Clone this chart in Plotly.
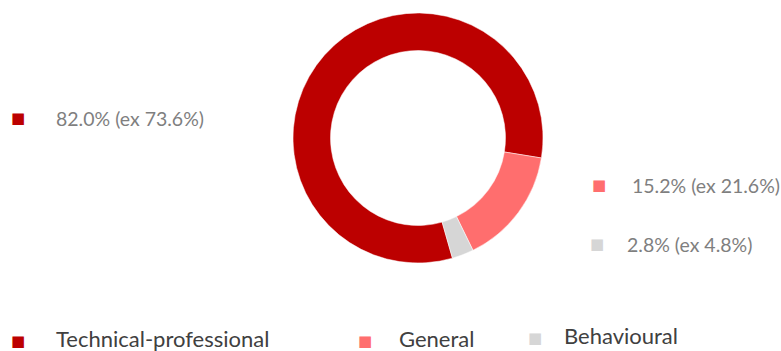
import plotly.graph_objects as go

categories = ["Technical-professional", "General", "Behavioural"]
values = [82.0, 15.2, 2.8]
previous = [73.6, 21.6, 4.8]
colors = ["#BC0000", "#FF6E6E", "#D6D6D6"]

W, H = 781, 351
cx, cy, R = 418, 138, 125

fig = go.Figure(go.Pie(
    labels=categories,
    values=values,
    sort=False,
    direction="clockwise",
    rotation=164,
    hole=0.70,
    marker=dict(colors=colors, line=dict(color="white", width=0.5)),
    textinfo="none",
    showlegend=False,
    domain=dict(x=[(cx - R) / W, (cx + R) / W], y=[(H - cy - R) / H, (H - cy + R) / H]),
))

font_fam = "Lato, 'Open Sans', sans-serif"
# side value labels: (marker x, text x, y)
side_pos = [(18, 54, 118), (599, 630, 185), (597, 625, 244)]
for i, (mx, tx, y) in enumerate(side_pos):
    fig.add_annotation(x=mx / W, y=1 - y / H, xref="paper", yref="paper", text="■",
                       showarrow=False, xanchor="center", yanchor="middle",
                       font=dict(size=15, color=colors[i], family="DejaVu Sans"))
    fig.add_annotation(x=tx / W, y=1 - y / H, xref="paper", yref="paper",
                       text=f"{values[i]:.1f}% (ex {previous[i]:.1f}%)",
                       showarrow=False, xanchor="left", yanchor="middle",
                       font=dict(size=19.5, color="#7F7F7F", family=font_fam))

legend_pos = [(18, 54, 338), (365, 397, 338), (535, 562, 335)]
for i, (mx, tx, y) in enumerate(legend_pos):
    fig.add_annotation(x=mx / W, y=1 - (y + 3) / H, xref="paper", yref="paper", text="■",
                       showarrow=False, xanchor="center", yanchor="middle",
                       font=dict(size=15, color=colors[i], family="DejaVu Sans"))
    fig.add_annotation(x=tx / W, y=1 - y / H, xref="paper", yref="paper",
                       text=categories[i], showarrow=False, xanchor="left", yanchor="middle",
                       font=dict(size=22, color="#404040", family=font_fam))

fig.update_layout(width=W, height=H, margin=dict(l=0, r=0, t=0, b=0),
                  paper_bgcolor="white", plot_bgcolor="white")
fig.write_html("out.html")
